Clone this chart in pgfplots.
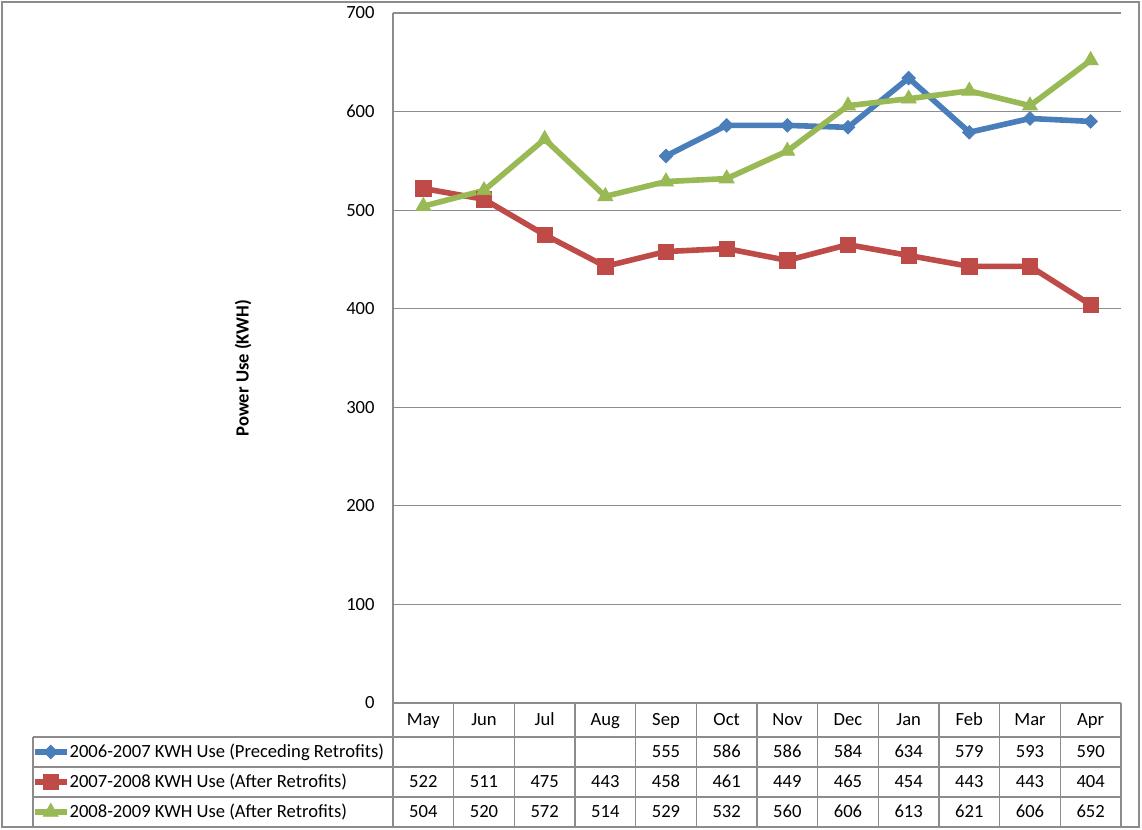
\documentclass[border=0pt]{standalone}
\usepackage{fontspec}
\setmainfont{Carlito}
\usepackage{pgfplots}
\usepackage{pgfplotstable}
\pgfplotsset{compat=1.18}
\definecolor{sblue}{HTML}{4A7EBB}
\definecolor{sred}{HTML}{BE4B48}
\definecolor{sgreen}{HTML}{98B954}
\definecolor{gridc}{HTML}{8C8C8C}
\newcommand\tfont{\fontsize{9.3}{11}\selectfont}

\pgfplotstableread{
x v
4 555
5 586
6 586
7 584
8 634
9 579
10 593
11 590
}\tblblue
\pgfplotstableread{
x v
0 522
1 511
2 475
3 443
4 458
5 461
6 449
7 465
8 454
9 443
10 443
11 404
}\tblred
\pgfplotstableread{
x v
0 504
1 520
2 572
3 514
4 529
5 532
6 560
7 606
8 613
9 621
10 606
11 652
}\tblgreen

\pgfplotsset{numrow/.style={draw=none, mark=none, forget plot, nodes near coords, point meta=explicit,
  nodes near coords style={anchor=base, yshift=-2.9pt, font=\tfont, text=black, inner sep=0pt}}}

\begin{document}
\begin{tikzpicture}[x=1pt,y=1pt]
\useasboundingbox (0,0) rectangle (571,415);
\draw[gridc, line width=0.6pt] (1,1.5) rectangle (569.5,414);
\begin{axis}[
 at={(196.5pt,63.5pt)}, anchor=south west,
 scale only axis, width=364pt, height=345pt,
 xmin=-0.5, xmax=11.5, ymin=0, ymax=700,
 clip=false,
 xtick={0,...,11},
 xticklabels={May,Jun,Jul,Aug,Sep,Oct,Nov,Dec,Jan,Feb,Mar,Apr},
 ytick={0,100,...,700},
 ymajorgrids,
 major grid style={gridc, line width=0.6pt},
 axis x line*=bottom, axis y line*=left,
 axis line style={gridc, line width=0.6pt, -},
 major tick length=0pt,
 tick style={draw=none},
 /pgf/number format/assume math mode=true,
 tick label style={font=\tfont, text=black},
 xticklabel style={anchor=base, yshift=-11.4pt, inner sep=0pt},
 yticklabel style={anchor=east, xshift=-9pt, inner sep=0pt},
 ylabel={Power Use (KWH)},
 ylabel style={font=\tfont\bfseries, at={(rel axis cs:-0.206,0.4855)}, anchor=center},
 legend style={at={(-0.4959,-0.04928)}, anchor=north west, draw=none, fill=none,
   inner sep=0pt, outer sep=0pt, row sep=0pt, column sep=0pt, font=\tfont,
   nodes={inner sep=0pt, text height=10.4pt, text depth=4.6pt}},
 legend cell align=left,
 legend image code/.code={\draw[#1, mark repeat=2, mark phase=2] plot coordinates {(0pt,0pt) (8pt,0pt) (16pt,0pt)};},
]
\addplot[sblue, line width=2.8pt, mark=square*, mark size=2.4pt,
  mark options={solid, rotate=45, line width=0.4pt, fill=sblue}] table[x=x,y=v]{\tblblue};
\addlegendentry{2006-2007 KWH Use (Preceding Retrofits)}
\addplot[sred, line width=2.8pt, mark=square*, mark size=3.8pt,
  mark options={solid, line width=0.4pt, fill=sred}] table[x=x,y=v]{\tblred};
\addlegendentry{2007-2008 KWH Use (After Retrofits)}
\addplot[sgreen, line width=2.8pt, mark=triangle*, mark size=4.3pt,
  mark options={solid, line width=0.4pt, fill=sgreen}] table[x=x,y=v]{\tblgreen};
\addlegendentry{2008-2009 KWH Use (After Retrofits)}

\addplot[numrow] table[x=x, y expr=-49.7, meta=v]{\tblblue};
\addplot[numrow] table[x=x, y expr=-80.1, meta=v]{\tblred};
\addplot[numrow] table[x=x, y expr=-110.55, meta=v]{\tblgreen};
\end{axis}
\begin{scope}[gridc, line width=0.6pt]
\foreach \k in {0,...,12} {\draw ({196.5+\k*30.33333},1.5) -- ({196.5+\k*30.33333},63.5);}
\foreach \yy in {46.5,31.5,16.5} {\draw (16.5,\yy) -- (560.5,\yy);}
\draw (16.5,1.5) -- (16.5,46.5);
\end{scope}
\end{tikzpicture}
\end{document}
